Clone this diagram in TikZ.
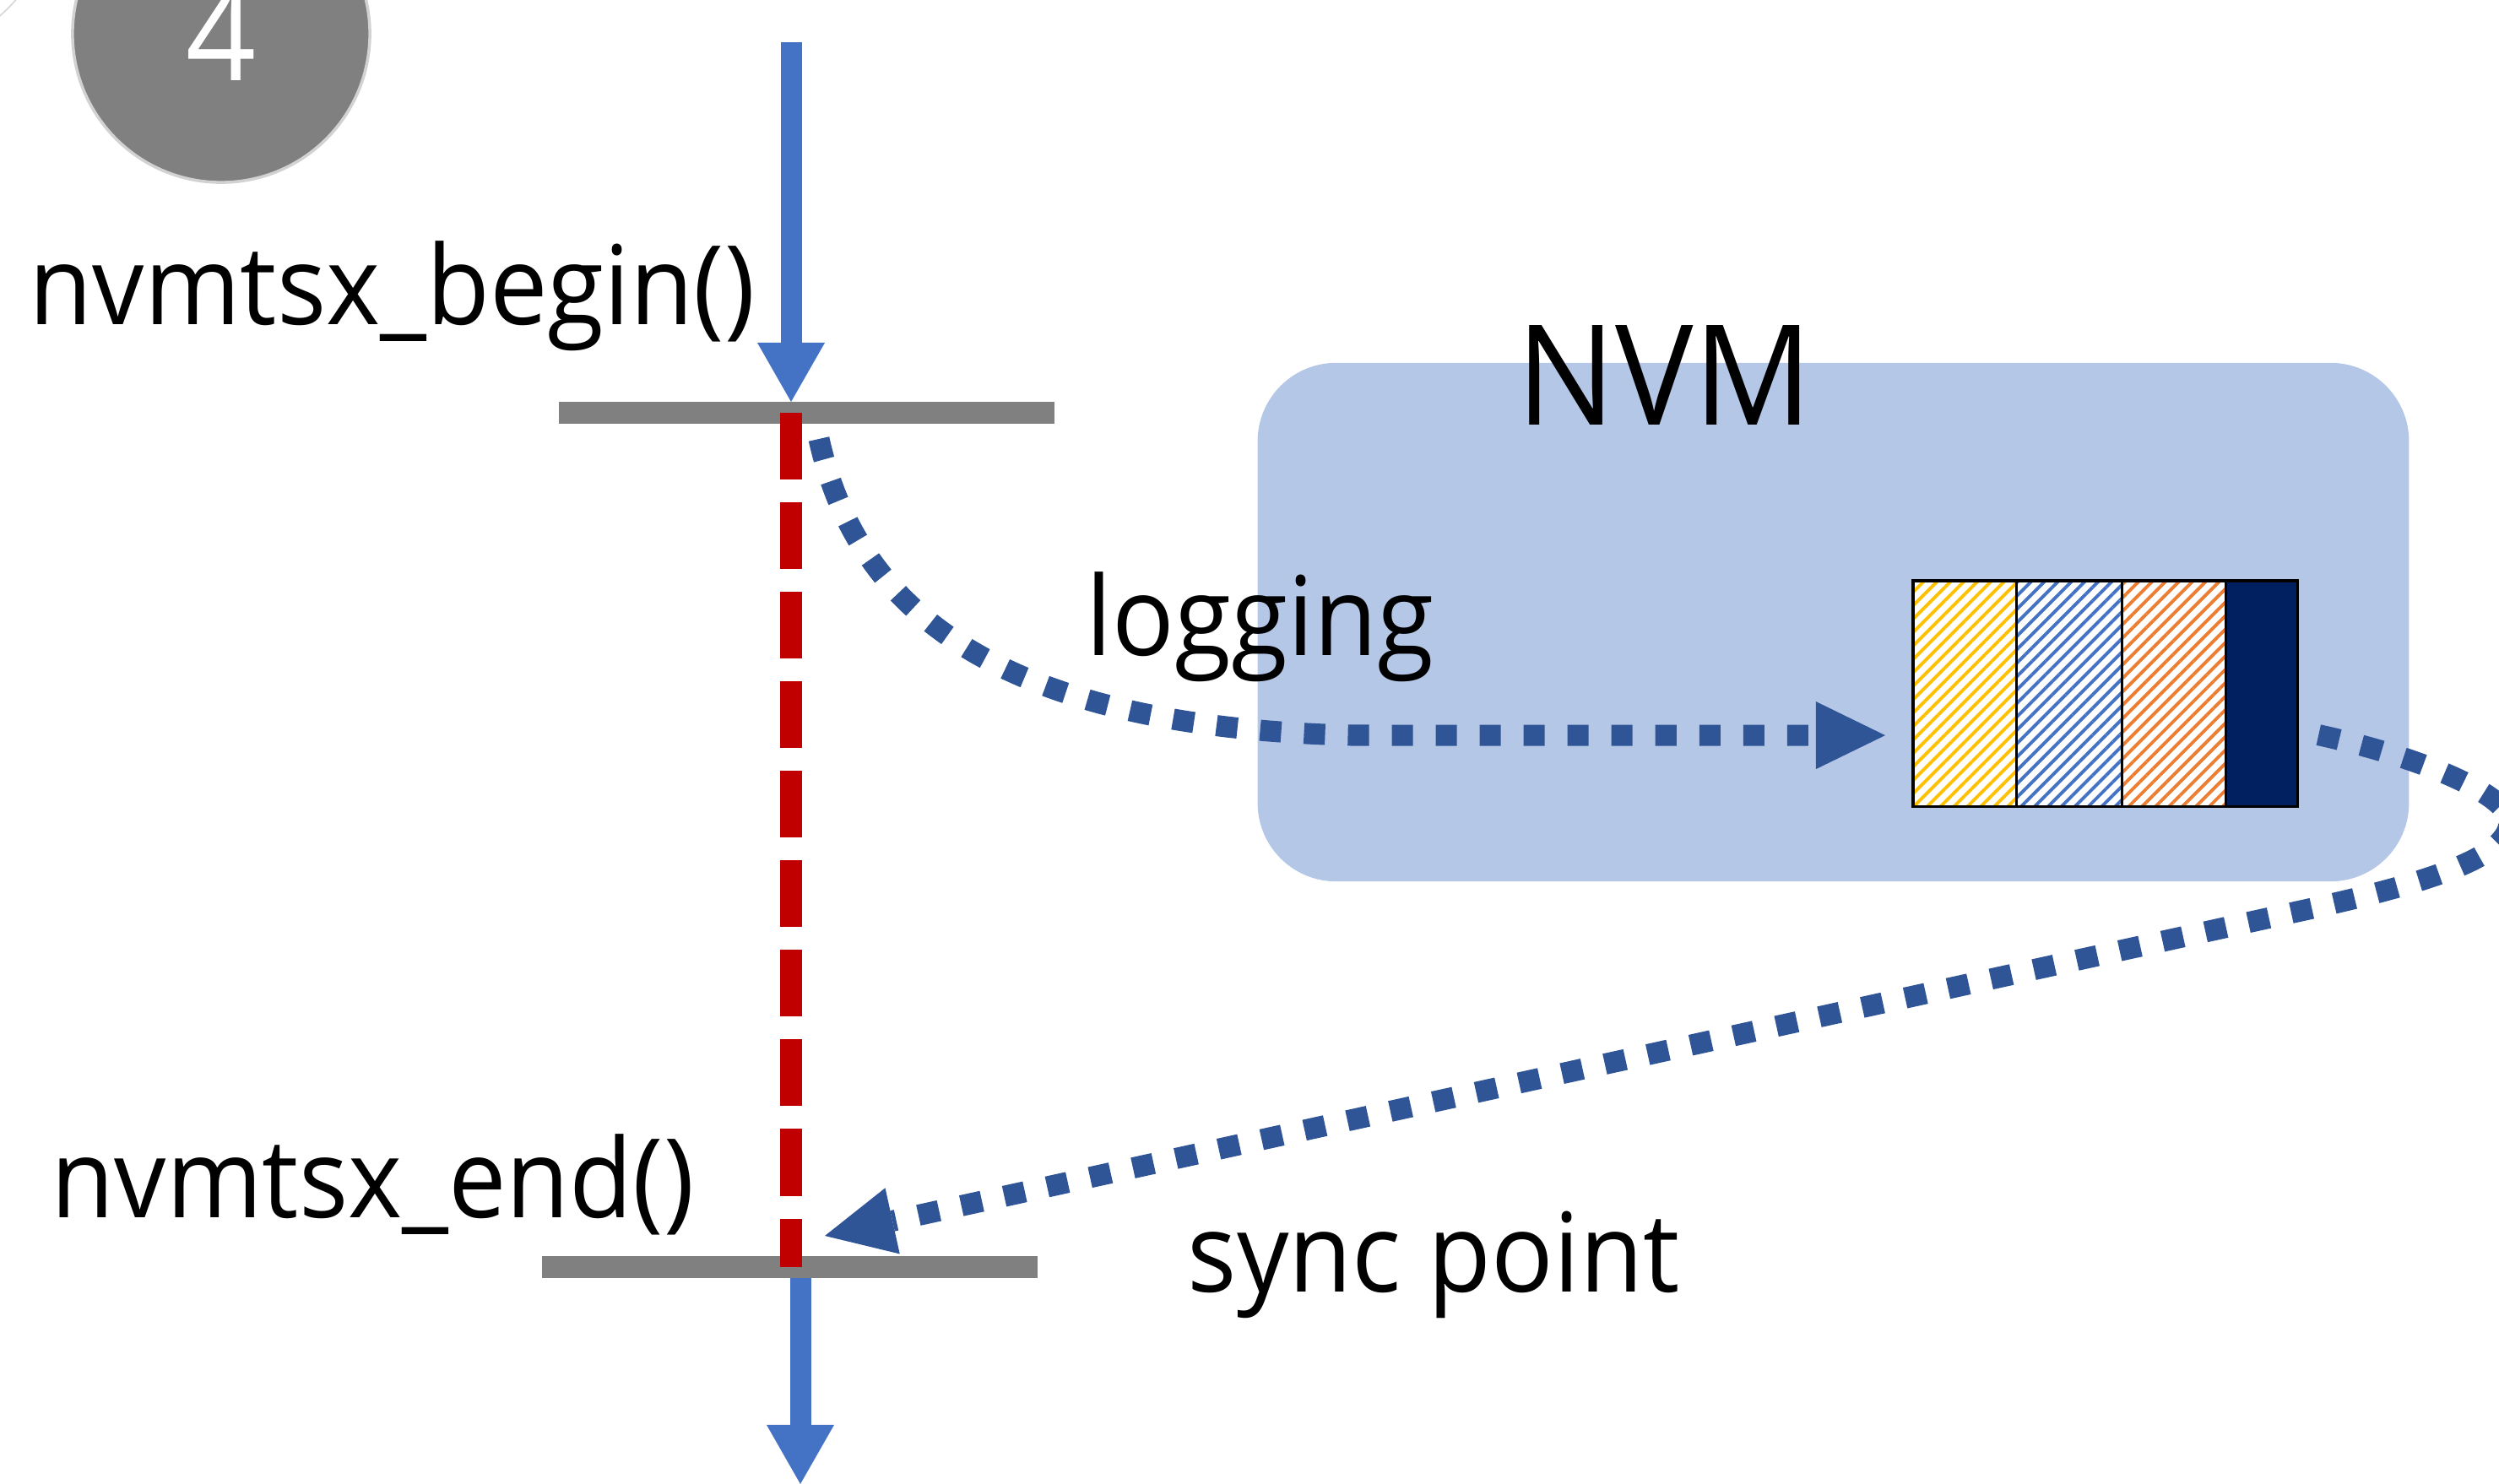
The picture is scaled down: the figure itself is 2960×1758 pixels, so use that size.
\documentclass[tikz,border=0pt]{standalone}
\usepackage{fontspec}
\setmainfont{Open Sans}[FakeStretch=0.94]
\usetikzlibrary{arrows.meta, positioning, patterns.meta}

\definecolor{nvmfill}{RGB}{180, 199, 231}
\definecolor{flowblue}{RGB}{68, 114, 196}
\definecolor{logblue}{RGB}{47, 85, 151}
\definecolor{txred}{RGB}{192, 0, 0}
\definecolor{bargray}{RGB}{128, 128, 128}
\definecolor{hatchyellow}{RGB}{255, 192, 0}
\definecolor{hatchorange}{RGB}{237, 125, 49}
\definecolor{navy1}{RGB}{0, 32, 96}

\tikzset{
  labeltext/.style={anchor=base west, inner sep=0pt, font=\fontsize{37}{44}\selectfont},
  txbar/.style={fill=bargray, minimum width=5.87cm, minimum height=0.26cm, inner sep=0pt, outer sep=0pt},
  flow/.style={draw=flowblue, line width=0.25cm, -{Triangle[length=0.7cm, width=0.8cm, line width=0pt]}},
  persist/.style={draw=logblue, line width=0.25cm, dash pattern=on 0.25cm off 0.27cm, -{Triangle[length=0.82cm, width=0.8cm, line width=0pt]}},
  logentry/.style={draw=black, line width=0.9pt, minimum height=2.67cm, inner sep=0pt, outer sep=0pt, preaction={fill=white}},
  hatched/.style={logentry, pattern={Lines[angle=45, distance=3.2pt, line width=1.1pt]}, pattern color=#1},
}

\begin{document}
\begin{tikzpicture}[x=0.01cm, y=-0.01cm]
  \useasboundingbox (0,0) rectangle (2960,1758);
  \clip (0,0) rectangle (2960,1758);

  % step number
  \draw[gray!30, line width=0.5pt] (-100,-100) circle (1.55cm);
  \node[circle, fill=bargray, draw=gray!35, line width=1pt, minimum size=3.52cm, inner sep=0pt, text=white, font=\fontsize{44}{50}\selectfont] (stepno) at (262,40) {4};

  % NVM region
  \node[fill=nvmfill, rounded corners=0.93cm, minimum width=13.63cm, minimum height=6.14cm, inner sep=0pt] (nvm) at (2171.5,737) {};
  \node[anchor=base west, inner sep=0pt, font=\fontsize{47}{52}\selectfont] (nvmlabel) at (1796,504) {NVM};

  % transaction begin / end
  \node[txbar] (beginbar) at (955.5,489) {};
  \node[txbar] (endbar) at (935.5,1501) {};
  \coordinate (flowin) at (937,50);
  \coordinate (flowout) at (948,1758);
  \draw[flow] (flowin) -- (flowin |- beginbar.north);
  \draw[flow] (flowout |- endbar.south) -- (flowout);
  \draw[txred, line width=0.26cm, dash pattern=on 0.79cm off 0.27cm] (flowin |- beginbar) -- (flowin |- endbar);

  \node[labeltext] (beginlabel) at (34,385) {nvmtsx\_begin()};
  \node[labeltext] (endlabel) at (60,1442) {nvmtsx\_end()};

  % log entries
  \node[hatched=hatchyellow, minimum width=1.22cm, anchor=north west] (entryA) at (2266,688) {};
  \node[hatched=flowblue, minimum width=1.25cm, right=0pt of entryA] (entryB) {};
  \node[hatched=hatchorange, minimum width=1.23cm, right=0pt of entryB] (entryC) {};
  \node[logentry, fill=navy1, minimum width=0.85cm, right=0pt of entryC] (entryD) {};

  \node[labeltext] (loglabel) at (1286,776) {logging};
  \node[labeltext] (synclabel) at (1406,1530) {sync point};

  % logging and sync paths
  \coordinate (logstart) at (970,520);
  \coordinate (synctip) at (977,1464);
  \draw[persist, shorten >=0.33cm] (logstart) .. controls (1010,700) and (1150,860) .. (1600,871) -- ([yshift=-0.495cm]entryA.west);
  \draw[persist] ([xshift=0.25cm, yshift=-0.49cm]entryD.east) .. controls (2880,900) and (2975,945) .. (2972,975)
    .. controls (2969,1015) and (2880,1045) .. (2730,1078) -- (synctip);
\end{tikzpicture}
\end{document}
